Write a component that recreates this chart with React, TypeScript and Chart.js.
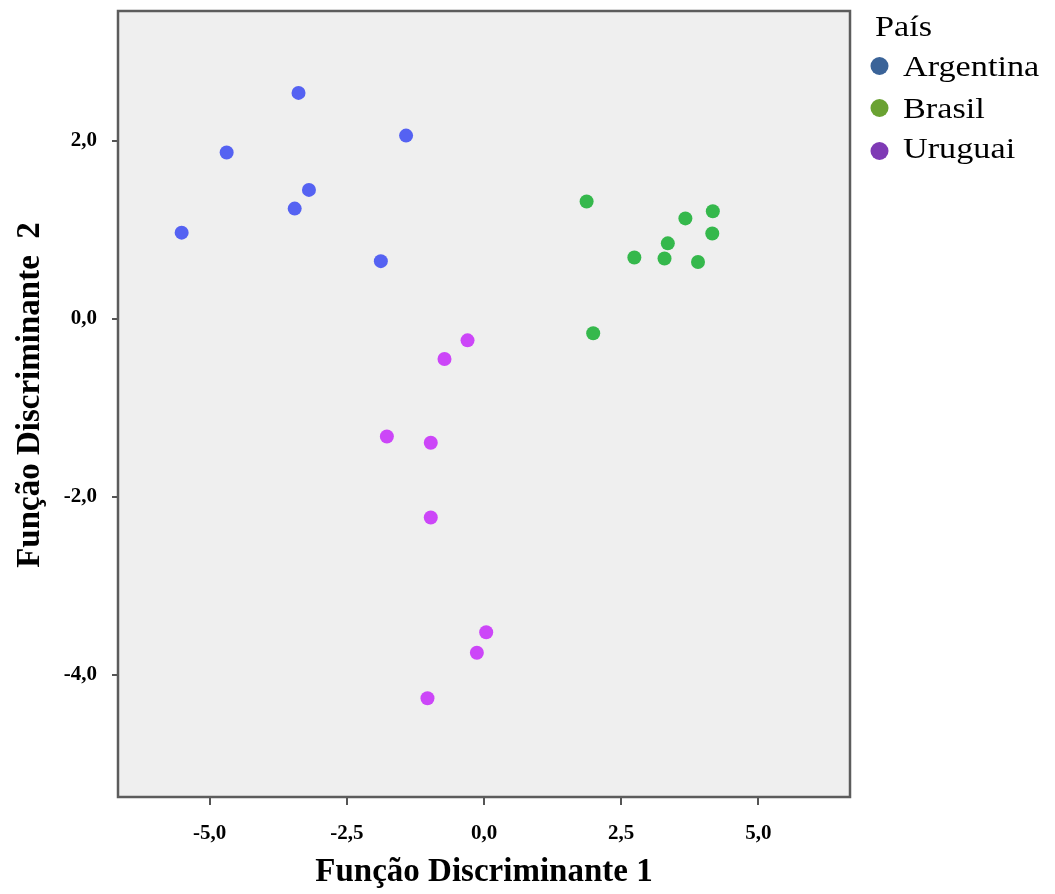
import React, { useEffect, useRef } from "react";
import { Chart, registerables } from "chart.js";

Chart.register(...registerables);

const seriesNames = ["Argentina", "Brasil", "Uruguai"];

const argentinaX = [-3.38, -1.42, -4.69, -3.19, -3.45, -5.51, -1.88];
const argentinaY = [2.54, 2.06, 1.87, 1.45, 1.24, 0.97, 0.65];

const brasilX = [1.87, 4.17, 3.67, 4.16, 3.35, 2.74, 3.29, 3.9, 1.99];
const brasilY = [1.32, 1.21, 1.13, 0.96, 0.85, 0.69, 0.68, 0.64, -0.16];

const uruguaiX = [-0.3, -0.72, -1.77, -0.97, -0.97, 0.04, -0.13, -1.03];
const uruguaiY = [-0.24, -0.45, -1.32, -1.39, -2.23, -3.52, -3.75, -4.26];

const pointColors = ["#5562f2", "#35b84c", "#cc46f8"];
const legendColors = ["#3a6398", "#6aa232", "#7f3ab5"];

const xTicks = [-5, -2.5, 0, 2.5, 5];
const yTicks = [2, 0, -2, -4];

const xTitle = "Função Discriminante 1";
const yTitle = "Função Discriminante  2";
const legendTitle = "País";

const SERIF = "'Liberation Serif', 'Times New Roman', serif";

function toPoints(xs: number[], ys: number[]) {
  return xs.map((x, i) => ({ x, y: ys[i] }));
}

const fmt = (v: number) => v.toFixed(1).replace(".", ",");

const framePlugin = {
  id: "frame",
  beforeDraw(chart: any) {
    const { ctx, chartArea: a } = chart;
    ctx.save();
    ctx.fillStyle = "#ffffff";
    ctx.fillRect(0, 0, chart.width, chart.height);
    ctx.fillStyle = "#efefef";
    ctx.fillRect(a.left, a.top, a.right - a.left, a.bottom - a.top);
    ctx.restore();
  },
  afterDatasetsDraw(chart: any) {
    const { ctx, chartArea: a } = chart;
    ctx.save();
    ctx.strokeStyle = "#5c5c5c";
    ctx.lineWidth = 2.5;
    ctx.strokeRect(a.left, a.top, a.right - a.left, a.bottom - a.top);
    ctx.restore();
  },
  afterDraw(chart: any) {
    const { ctx } = chart;
    ctx.save();
    // y axis title
    ctx.translate(30, 395);
    ctx.rotate(-Math.PI / 2);
    ctx.fillStyle = "#000";
    ctx.font = `bold 33px ${SERIF}`;
    ctx.textAlign = "center";
    ctx.textBaseline = "middle";
    ctx.fillText(yTitle, 0, 0);
    ctx.restore();

    // legend
    const stretch = 1.18;
    const drawText = (t: string, x: number, y: number) => {
      ctx.save();
      ctx.translate(x, y);
      ctx.scale(stretch, 1);
      ctx.fillText(t, 0, 0);
      ctx.restore();
    };
    ctx.save();
    ctx.fillStyle = "#000";
    ctx.font = `29px ${SERIF}`;
    ctx.textAlign = "left";
    ctx.textBaseline = "alphabetic";
    drawText(legendTitle, 875, 36);
    const baseY = [76, 118, 158];
    const dotY = [66, 108, 151];
    seriesNames.forEach((name, i) => {
      ctx.fillStyle = legendColors[i];
      ctx.beginPath();
      ctx.arc(879.5, dotY[i], 9, 0, Math.PI * 2);
      ctx.fill();
      ctx.fillStyle = "#000";
      drawText(name, 903, baseY[i]);
    });
    ctx.restore();
  },
};

export default function App() {
  const ref = useRef<HTMLCanvasElement | null>(null);

  useEffect(() => {
    if (!ref.current) return;
    Chart.defaults.font.family = SERIF;
    const chart = new Chart(ref.current, {
      type: "scatter",
      data: {
        datasets: [
          { label: seriesNames[0], data: toPoints(argentinaX, argentinaY), backgroundColor: pointColors[0] },
          { label: seriesNames[1], data: toPoints(brasilX, brasilY), backgroundColor: pointColors[1] },
          { label: seriesNames[2], data: toPoints(uruguaiX, uruguaiY), backgroundColor: pointColors[2] },
        ].map((d) => ({ ...d, pointRadius: 7, pointHoverRadius: 7, borderWidth: 0, pointBorderWidth: 0 })),
      },
      options: {
        responsive: false,
        animation: false,
        devicePixelRatio: 1,
        layout: { padding: { top: 11, right: 205, left: 0, bottom: 0 } },
        plugins: { legend: { display: false }, tooltip: { enabled: false } },
        scales: {
          x: {
            type: "linear",
            min: -6.67,
            max: 6.67,
            afterBuildTicks: (s: any) => {
              s.ticks = xTicks.map((v) => ({ value: v }));
            },
            afterFit: (s: any) => {
              s.height = 97;
              s.paddingLeft = 0;
              s.paddingRight = 0;
            },
            ticks: {
              callback: (v: any) => fmt(Number(v)),
              font: { family: SERIF, size: 21, weight: "bold" },
              color: "#000",
              padding: 16,
              maxRotation: 0,
            },
            grid: { drawOnChartArea: false, drawTicks: true, tickLength: 8, color: "#555", lineWidth: 2 },
            border: { display: false },
            title: {
              display: true,
              text: xTitle,
              color: "#000",
              font: { family: SERIF, size: 33, weight: "bold" },
              padding: { top: 0, bottom: 2 },
            },
          },
          y: {
            type: "linear",
            min: -5.37,
            max: 3.46,
            afterBuildTicks: (s: any) => {
              s.ticks = yTicks.map((v) => ({ value: v }));
            },
            afterFit: (s: any) => {
              s.width = 118;
              s.paddingTop = 0;
              s.paddingBottom = 0;
            },
            ticks: {
              callback: (v: any) => fmt(Number(v)),
              font: { family: SERIF, size: 21, weight: "bold" },
              color: "#000",
              padding: 15,
            },
            grid: { drawOnChartArea: false, drawTicks: true, tickLength: 6, color: "#555", lineWidth: 2 },
            border: { display: false },
          },
        },
      },
      plugins: [framePlugin],
    } as any);
    return () => chart.destroy();
  }, []);

  return (
    <div style={{ position: "absolute", left: 0, top: 0, width: 1055, height: 894, background: "#fff" }}>
      <canvas ref={ref} width={1055} height={894} style={{ display: "block" }} />
    </div>
  );
}
